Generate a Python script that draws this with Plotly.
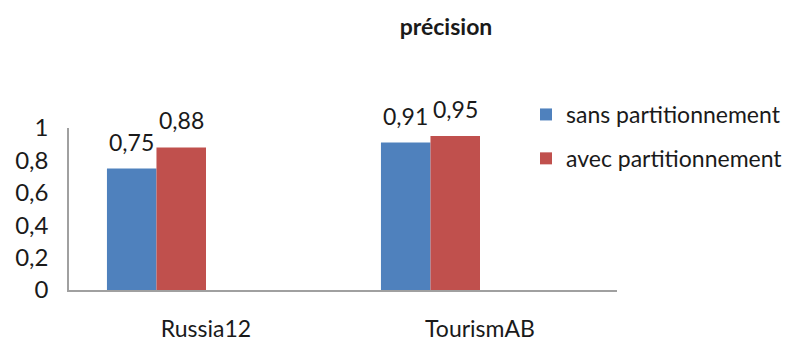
import plotly.graph_objects as go

categories = ["Russia12", "TourismAB"]
sans = [0.75, 0.91]
avec = [0.88, 0.95]
series_names = ["sans partitionnement", "avec partitionnement"]
y_ticks = [0, 0.2, 0.4, 0.6, 0.8, 1]
y_ticklabels = ["0", "0,2", "0,4", "0,6", "0,8", "1"]

FONT = "Lato"
TXT = "#1a1a1a"
W, H = 800, 343
ML, MR, MT, MB = 69, 183, 128, 53
BARGAP = 0.277
N_SLOTS = 4  # two real series + two empty series slots

fig = go.Figure()
fig.add_trace(go.Bar(x=categories, y=sans, name=series_names[0], marker_color="#4F81BD",
                     marker_line=dict(width=0), legendgroup="a"))
fig.add_trace(go.Bar(x=categories, y=avec, name=series_names[1], marker_color="#C0504D",
                     marker_line=dict(width=0), legendgroup="b"))
# two empty series (reserved slots in the group, as in the original chart)
fig.add_trace(go.Bar(x=categories, y=[None, None], showlegend=False, hoverinfo="skip"))
fig.add_trace(go.Bar(x=categories, y=[None, None], showlegend=False, hoverinfo="skip"))

# data labels, placed over each bar via the axis scale
cat_px = (W - ML - MR) / len(categories)
bar_px = cat_px * (1 - BARGAP) / N_SLOTS
for s_idx, vals in enumerate([sans, avec]):
    shift = (s_idx - (N_SLOTS - 1) / 2) * bar_px
    for cat, v in zip(categories, vals):
        fig.add_annotation(x=cat, y=v, xref="x", yref="y", text=f"{v:.2f}".replace(".", ","),
                           showarrow=False, xshift=shift, yshift=11, yanchor="bottom",
                           xanchor="center", font=dict(size=23, family=FONT, color=TXT))

fig.update_layout(
    width=W, height=H,
    margin=dict(l=ML, r=MR, t=MT, b=MB, autoexpand=False),
    paper_bgcolor="white", plot_bgcolor="white",
    separators=", ",
    barmode="group", bargap=BARGAP, bargroupgap=0,
    font=dict(family=FONT, color=TXT),
    title=dict(text="<b>précision</b>", x=446/800, xref="container", xanchor="center",
               y=1 - 27/343, yref="container", yanchor="middle",
               font=dict(size=23, family=FONT, color=TXT)),
    showlegend=True,
    legend=dict(x=526/800, xref="container", y=1 - 93/343, yref="container",
                xanchor="left", yanchor="top", font=dict(size=23, family=FONT, color=TXT),
                tracegroupgap=11, traceorder="grouped", bgcolor="rgba(0,0,0,0)",
                itemwidth=30),
    xaxis=dict(showline=True, linecolor="#A0A0A0", linewidth=1.5, showgrid=False,
               ticks="", tickfont=dict(size=23, family=FONT, color=TXT), ticklabelstandoff=18),
    yaxis=dict(range=[0, 1], showline=True, linecolor="#A0A0A0", linewidth=1.5, showgrid=False,
               zeroline=False, ticks="", tickvals=y_ticks, ticktext=y_ticklabels,
               tickfont=dict(size=24, family=FONT, color=TXT), ticklabelstandoff=14),
)

fig.write_html("out.html")
